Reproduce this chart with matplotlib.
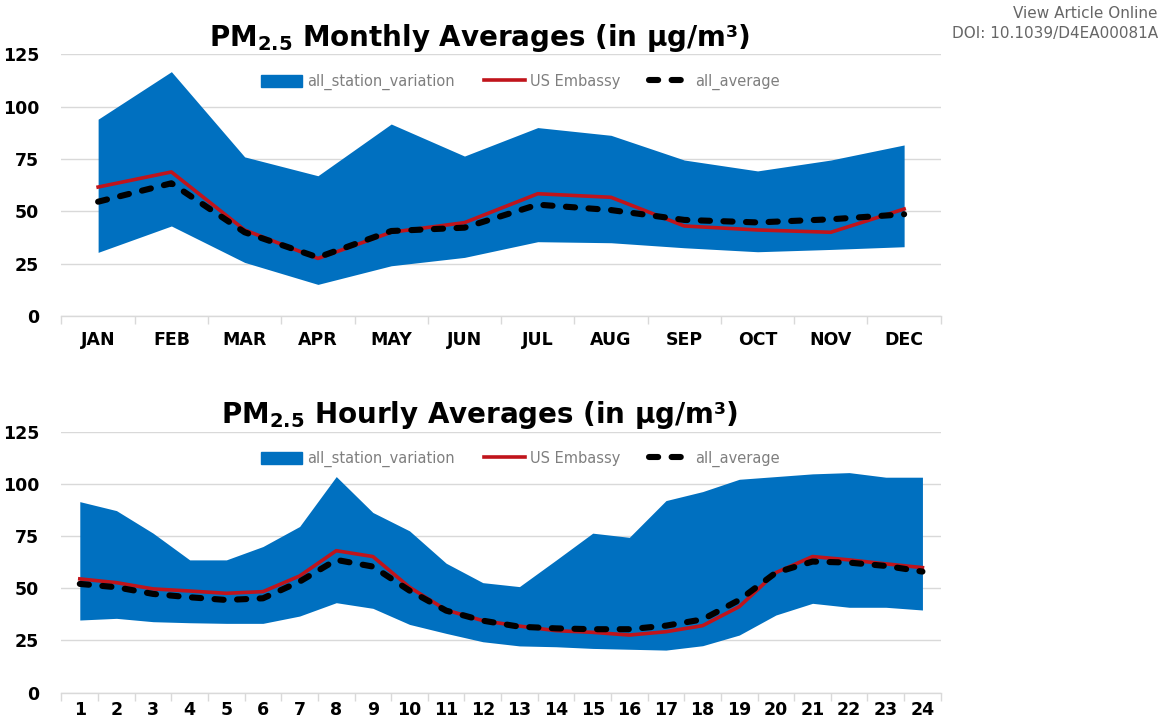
import numpy as np
import matplotlib
matplotlib.use("Agg")
import matplotlib.pyplot as plt
from matplotlib.patches import Patch
from matplotlib.lines import Line2D

# monthly data
months = ["JAN", "FEB", "MAR", "APR", "MAY", "JUN", "JUL", "AUG", "SEP", "OCT", "NOV", "DEC"]
month_upper = [94, 116.7, 76, 67, 91.7, 76.4, 90, 86.3, 74.5, 69.3, 74.5, 81.7]
month_lower = [30.4, 43, 25.6, 15.1, 24, 28, 35.5, 35, 32.6, 30.7, 31.8, 33.1]
month_us = [61.6, 68.8, 41.1, 27.5, 40, 44.6, 58.4, 56.7, 43, 41.1, 40, 51.1]
month_avg = [54.6, 63.4, 40, 28, 40.6, 42.2, 53.2, 50.6, 45.9, 44.7, 46.2, 48.6]

# hourly data
hours = [str(h) for h in range(1, 25)]
hour_upper = [91.5, 87.2, 76.4, 63.6, 63.6, 70, 79.6, 103.5, 86.3, 77.5, 62, 52.7,
              50.8, 63.5, 76.4, 74.4, 92, 96.3, 102.2, 103.5, 104.8, 105.4, 103.2, 103.2]
hour_lower = [34.8, 35.6, 34, 33.5, 33.2, 33.2, 36.7, 43.1, 40.4, 32.7, 28.4, 24.4,
              22.4, 22, 21.2, 20.8, 20.4, 22.5, 27.6, 37.2, 42.8, 40.9, 40.9, 39.6]
hour_us = [54.5, 52.7, 49.7, 48.7, 47.6, 48.4, 55.9, 68, 65.2, 50.5, 39.6, 34.5,
           31.9, 29.7, 28.9, 27.6, 29.2, 32.1, 41.2, 57.5, 65.2, 63.6, 61.7, 59.9]
hour_avg = [52.1, 50.5, 47.3, 45.7, 44.4, 45.2, 53.2, 63.6, 60.4, 48.9, 39.3, 34.5,
            31.6, 30.8, 30.4, 30.4, 32.1, 35.1, 44.4, 57.5, 62.8, 62.3, 60.7, 58]

BLUE = "#0070c0"
RED = "#c0141b"
GRID = "#d9d9d9"
DASH = (0, (1.5, 2.2))

fig = plt.figure(figsize=(11.6, 7.22), dpi=100)
ax1 = fig.add_axes([0.053, 0.5623, 0.758, 0.3625])
ax2 = fig.add_axes([0.053, 0.0406, 0.758, 0.3615])


def draw(ax, labels, upper, lower, us, avg, title, xpad):
    x = np.arange(len(labels))
    ax.fill_between(x, lower, upper, color=BLUE, linewidth=0, zorder=2)
    ax.plot(x, us, color=RED, linewidth=2.6, zorder=3)
    ax.plot(x, avg, color="black", linewidth=4.4, linestyle=DASH,
            dash_capstyle="round", zorder=4)
    ax.set_xlim(-0.5, len(labels) - 0.5)
    ax.set_ylim(0, 125)
    ax.set_yticks([0, 25, 50, 75, 100, 125])
    ax.set_xticks(x)
    ax.set_xticklabels(labels)
    ax.set_xticks(np.arange(-0.5, len(labels)), minor=True)
    ax.tick_params(axis="x", which="major", length=0, pad=xpad, labelsize=12.5)
    ax.tick_params(axis="x", which="minor", length=6, color=GRID, width=1)
    ax.tick_params(axis="y", length=0, pad=16, labelsize=12.5)
    for lab in ax.get_xticklabels() + ax.get_yticklabels():
        lab.set_fontweight("bold")
    ax.grid(axis="y", color=GRID, linewidth=1, zorder=0)
    ax.set_axisbelow(True)
    for s in ["top", "right", "left"]:
        ax.spines[s].set_visible(False)
    ax.spines["bottom"].set_color(GRID)
    ax.spines["bottom"].set_linewidth(1)
    ax.set_title(title, fontsize=20, fontweight="bold", pad=6, x=0.475)
    handles = [Patch(color=BLUE),
               Line2D([], [], color=RED, linewidth=2.6),
               Line2D([], [], color="black", linewidth=4.4, linestyle=DASH,
                      dash_capstyle="round")]
    leg = ax.legend(handles, ["all_station_variation", "US Embassy", "all_average"],
                    loc="center", bbox_to_anchor=(0.522, 0.895), ncol=3, frameon=False,
                    fontsize=10.5, handlelength=2.8, handleheight=0.9, columnspacing=2.0,
                    handletextpad=0.35)
    for t in leg.get_texts():
        t.set_color("#7f7f7f")


draw(ax1, months, month_upper, month_lower, month_us, month_avg,
     r"PM$_{\mathbf{2.5}}$ Monthly Averages (in μg/m³)", 11)
draw(ax2, hours, hour_upper, hour_lower, hour_us, hour_avg,
     r"PM$_{\mathbf{2.5}}$ Hourly Averages (in μg/m³)", 6)

fig.text(0.998, 0.981, "View Article Online", ha="right", va="center", fontsize=11, color="#666666")
fig.text(0.998, 0.953, "DOI: 10.1039/D4EA00081A", ha="right", va="center", fontsize=11, color="#666666")

fig.savefig("out.png", dpi=100)
